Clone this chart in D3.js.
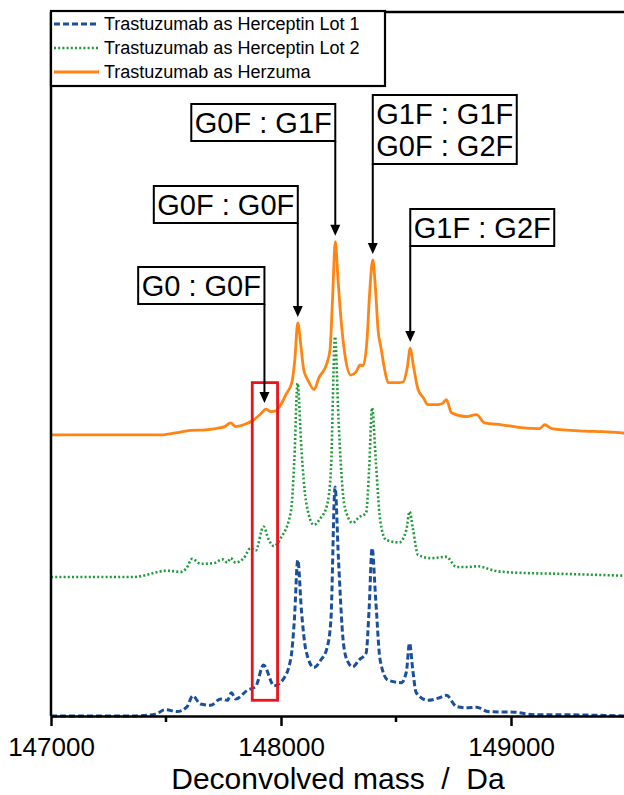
<!DOCTYPE html>
<html>
<head>
<meta charset="utf-8">
<script src="https://cdn.jsdelivr.net/npm/d3@7"></script>
<style>
  body { margin: 0; background: #fff; }
  svg { display: block; font-family: "Liberation Sans", Arial, sans-serif; }
</style>
</head>
<body>
<div id="chart"></div>
<script>
// Series: [deconvolved mass (Da), relative intensity above own baseline]
const lot1 = [
  [147000, 0], [147358, 0], [147454, 0.3], [147497, 1.0], [147548, 0.7], [147592, 1.5],
  [147616, 3.2], [147650, 1.9], [147694, 1.7], [147737, 2.7], [147767, 2.5], [147784, 3.7],
  [147803, 2.7], [147854, 4.1], [147890, 4.7], [147924, 8.1], [147970, 4.8], [148007, 5.7],
  [148043, 9.2], [148058, 15.2], [148073, 24.8], [148089, 16.7], [148108, 10.5], [148143, 7.7],
  [148173, 8.9], [148200, 10.8], [148217, 15.3], [148235, 36.4], [148250, 24.8], [148270, 12.1],
  [148287, 8.9], [148312, 7.8], [148339, 8.9], [148370, 10.0], [148383, 16.9], [148396, 26.7],
  [148412, 18.4], [148431, 8.9], [148465, 5.7], [148523, 5.3], [148545, 7.0], [148559, 11.6],
  [148573, 7.3], [148588, 3.7], [148639, 2.5], [148689, 2.9], [148719, 3.3], [148763, 1.5],
  [148806, 1.3], [148850, 1.4], [148901, 0.7], [149016, 0.6], [149103, 0.2], [149221, 0.2],
  [149395, 0.1], [149500, 0]
];
const lot2 = [
  [147000, 0], [147358, 0], [147505, 1.0], [147563, 0.8], [147589, 1.4], [147614, 2.9],
  [147650, 2.1], [147707, 2.2], [147745, 2.8], [147767, 2.3], [147781, 3.0], [147803, 2.3],
  [147838, 3.0], [147868, 4.6], [147890, 4.2], [147924, 8.0], [147947, 5.9], [147969, 4.9],
  [147999, 6.2], [148043, 10.4], [148058, 18.6], [148072, 30.8], [148089, 20.2], [148108, 12.2],
  [148143, 8.3], [148173, 9.4], [148200, 11.4], [148217, 17.0], [148235, 38.2], [148250, 25.0],
  [148270, 13.0], [148287, 9.9], [148312, 8.6], [148339, 9.5], [148370, 10.2], [148383, 17.0],
  [148396, 26.9], [148412, 18.6], [148431, 9.1], [148457, 5.9], [148514, 5.5], [148545, 7.5],
  [148559, 10.4], [148573, 7.8], [148596, 3.5], [148654, 3.0], [148719, 3.2], [148763, 1.6],
  [148811, 1.6], [148857, 1.7], [148928, 1.0], [149016, 0.7], [149221, 0.5], [149500, 0.2]
];
const herzuma = [
  [147000, 0], [147476, 0], [147541, 0.3], [147606, 0.7], [147672, 0.8], [147716, 1.0],
  [147755, 1.3], [147781, 1.9], [147803, 1.3], [147838, 1.6], [147882, 2.4], [147908, 3.2],
  [147935, 4.1], [147956, 3.7], [147977, 3.8], [147999, 4.8], [148021, 6.4], [148047, 8.3],
  [148060, 11.9], [148073, 17.8], [148086, 14.3], [148099, 10.3], [148117, 8.7], [148144, 7.2],
  [148165, 9.1], [148196, 11.0], [148213, 13.5], [148224, 21.5], [148236, 30.7], [148248, 24.6],
  [148261, 18.3], [148278, 12.7], [148304, 9.5], [148326, 10.0], [148344, 11.1], [148357, 11.0],
  [148374, 15.1], [148385, 22.3], [148399, 27.8], [148411, 23.1], [148422, 16.7], [148435, 13.8],
  [148451, 10.3], [148466, 8.3], [148510, 8.3], [148531, 8.4], [148549, 10.7], [148562, 13.8],
  [148575, 11.1], [148596, 7.2], [148619, 5.9], [148639, 4.8], [148683, 4.8], [148702, 5.0],
  [148719, 5.6], [148741, 3.5], [148806, 2.9], [148850, 3.2], [148885, 1.9], [148959, 1.6],
  [149032, 1.2], [149125, 1.0], [149147, 1.6], [149177, 1.0], [149321, 0.6], [149395, 0.5],
  [149483, 0.3], [149500, 0.2]
];

const seriesNames = ["Trastuzumab as Herceptin Lot 1", "Trastuzumab as Herceptin Lot 2", "Trastuzumab as Herzuma"];
const seriesOffsets = [0, 22.1, 44.7];   // vertical stacking offsets
const majorTicks = [147000, 148000, 149000];
const minorTicks = [147500, 148500];
const xTitle = "Deconvolved mass  /  Da";

// Glycoform annotations on the Herzuma trace
const annLabels = [["G0 : G0F"], ["G0F : G0F"], ["G0F : G1F"], ["G1F : G1F", "G0F : G2F"], ["G1F : G2F"]];
const annMass = [147928, 148073, 148236, 148399, 148562];
const annBoxTop = [267, 186, 104, 95, 209];
const annSide = ["right", "right", "right", "left", "left"];

// highlighted G0 : G0F region (mass range, intensity range)
const highlightMass = [147875, 147985];
const highlightInt = [2.5, 53.0];

const width = 624, height = 795;
const margin = { top: 12, left: 51, bottom: 716 };
const colors = ["#1b4f9c", "#1f9a3a", "#ff8412"];
const dashes = ["6,3", "2,2.2", null];
const widths = [3, 2.6, 2.8];

const svg = d3.select("#chart").append("svg")
  .attr("width", width)
  .attr("height", height);

const xScale = d3.scaleLinear().domain([147000, 149500]).range([margin.left, 626]);
const yScale = d3.scaleLinear().domain([0, 100]).range([margin.bottom, 87]);

const series = [lot1, lot2, herzuma];

const line = d3.line()
  .x(d => xScale(d[0]))
  .y(d => yScale(d[1]))
  .curve(d3.curveMonotoneX);

// draw traces (Herzuma on top)
series.forEach((data, i) => {
  svg.append("path")
    .datum(data.map(d => [d[0], d[1] + seriesOffsets[i]]))
    .attr("fill", "none")
    .attr("stroke", colors[i])
    .attr("stroke-width", widths[i])
    .attr("stroke-dasharray", dashes[i])
    .attr("stroke-linejoin", "round")
    .attr("d", line);
});

// red highlight box
svg.append("rect")
  .attr("x", xScale(highlightMass[0]))
  .attr("y", yScale(highlightInt[1]))
  .attr("width", xScale(highlightMass[1]) - xScale(highlightMass[0]))
  .attr("height", yScale(highlightInt[0]) - yScale(highlightInt[1]))
  .attr("fill", "none")
  .attr("stroke", "#e8141c")
  .attr("stroke-width", 2.8);

// x axis
const xAxisGroup = svg.append("g")
  .attr("transform", `translate(0, ${margin.bottom})`)
  .call(d3.axisBottom(xScale).tickValues(majorTicks).tickFormat(d3.format("d"))
    .tickSize(10).tickSizeOuter(0).tickPadding(12));
xAxisGroup.selectAll("text")
  .attr("font-size", 26)
  .attr("font-family", "'Liberation Sans', Arial, sans-serif")
  .attr("fill", "#000");
xAxisGroup.selectAll("line, path").attr("stroke", "#000").attr("stroke-width", 2.5);

svg.append("g")
  .selectAll("line")
  .data(minorTicks)
  .join("line")
  .attr("x1", d => xScale(d))
  .attr("x2", d => xScale(d))
  .attr("y1", margin.bottom)
  .attr("y2", margin.bottom + 6)
  .attr("stroke", "#000")
  .attr("stroke-width", 2.5);

svg.append("text")
  .attr("x", 338)
  .attr("y", 789)
  .attr("text-anchor", "middle")
  .attr("font-size", 30)
  .style("white-space", "pre")
  .text(xTitle);

// frame: left axis and top border
svg.append("line")
  .attr("x1", margin.left).attr("x2", margin.left)
  .attr("y1", margin.top).attr("y2", margin.bottom)
  .attr("stroke", "#000").attr("stroke-width", 2.5);
svg.append("line")
  .attr("x1", margin.left).attr("x2", width)
  .attr("y1", margin.top).attr("y2", margin.top)
  .attr("stroke", "#000").attr("stroke-width", 2.5);

// legend
const legend = svg.append("g");
legend.append("rect")
  .attr("x", margin.left).attr("y", 11)
  .attr("width", 334).attr("height", 75)
  .attr("fill", "#fff").attr("stroke", "#000").attr("stroke-width", 2.2);
seriesNames.forEach((name, i) => {
  const y = 24 + i * 24;
  legend.append("line")
    .attr("x1", 54).attr("x2", 99)
    .attr("y1", y).attr("y2", y)
    .attr("stroke", colors[i])
    .attr("stroke-width", widths[i])
    .attr("stroke-dasharray", dashes[i]);
  legend.append("text")
    .attr("x", 104).attr("y", y)
    .attr("dy", "0.35em")
    .attr("font-size", 18)
    .text(name);
});

// annotations with arrows
const orangeOffset = seriesOffsets[2];
annLabels.forEach((lines, i) => {
  const ax = xScale(annMass[i]);
  const near = herzuma.filter(d => Math.abs(d[0] - annMass[i]) < 15);
  const peak = d3.max(near, d => d[1]);
  const tipY = yScale(peak + orangeOffset) - 6;

  const g = svg.append("g");
  const texts = lines.map((t, j) => g.append("text")
    .attr("y", annBoxTop[i] + 28.5 + j * 32.5)
    .attr("font-size", 29)
    .text(t));
  const w = d3.max(texts, t => t.node().getComputedTextLength()) + 7;
  const h = 37 + (lines.length - 1) * 32;
  const bx = annSide[i] === "right" ? ax - w : ax;
  texts.forEach(t => t.attr("x", bx + w / 2).attr("text-anchor", "middle"));
  g.insert("rect", "text")
    .attr("x", bx).attr("y", annBoxTop[i])
    .attr("width", w).attr("height", h)
    .attr("fill", "#fff").attr("stroke", "#000").attr("stroke-width", 2);

  const bottom = annBoxTop[i] + h;
  g.append("line")
    .attr("x1", ax).attr("x2", ax)
    .attr("y1", bottom).attr("y2", tipY - 8)
    .attr("stroke", "#000").attr("stroke-width", 2);
  g.append("path")
    .attr("d", `M${ax - 5},${tipY - 11} L${ax + 5},${tipY - 11} L${ax},${tipY} Z`)
    .attr("fill", "#000");
});
</script>
</body>
</html>
